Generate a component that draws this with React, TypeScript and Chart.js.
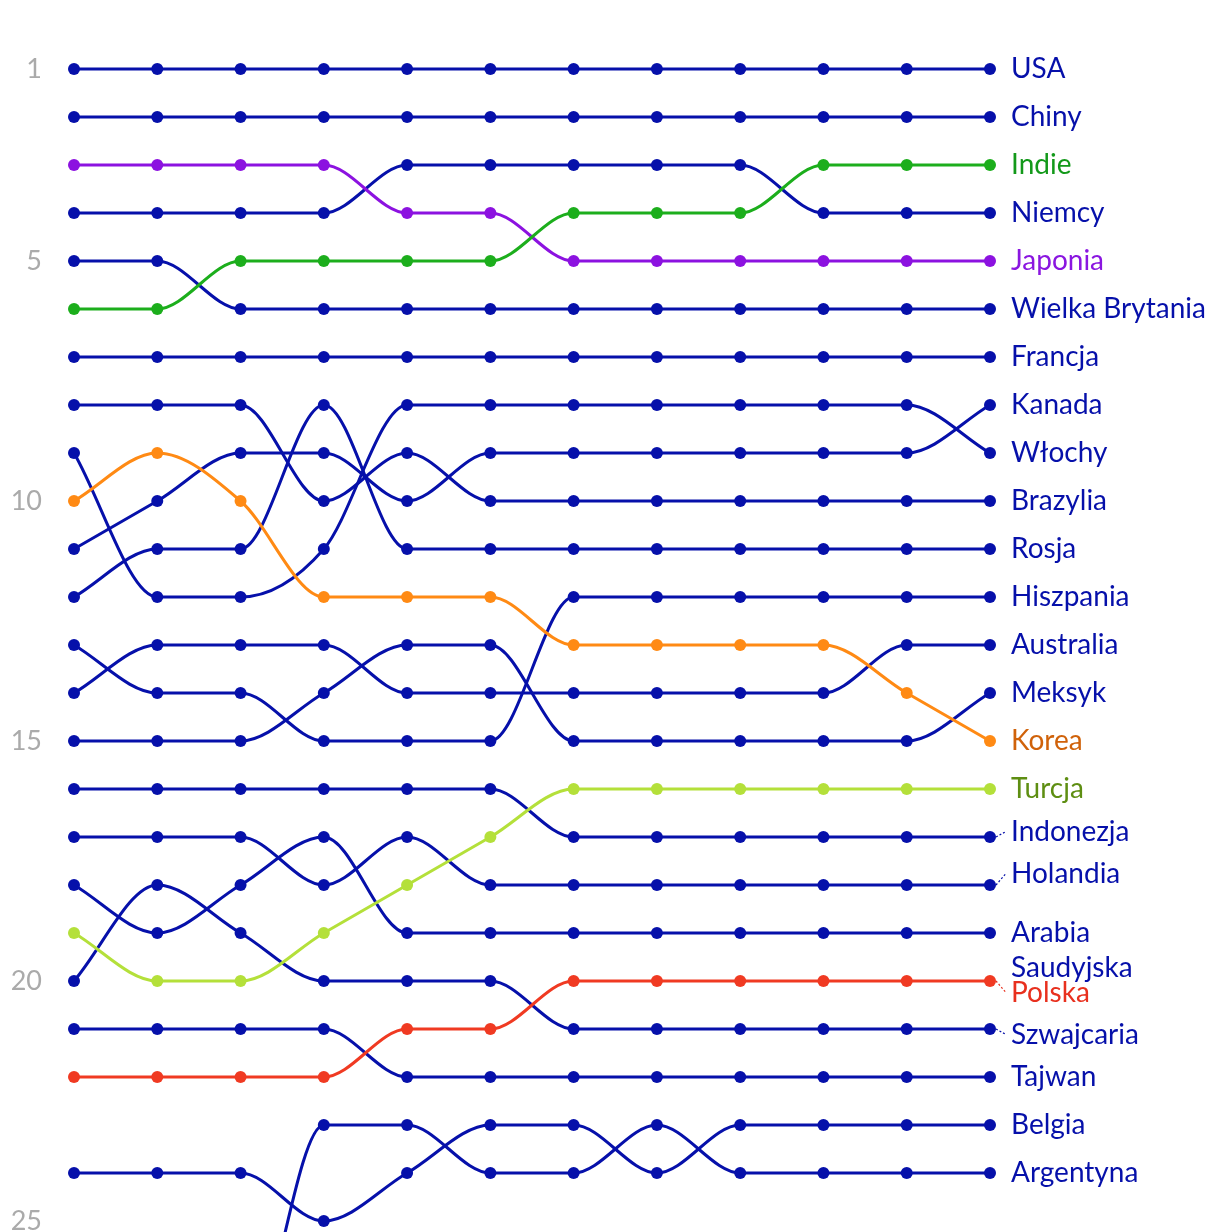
import React, { useEffect, useRef } from 'react';
import { Chart, registerables } from 'chart.js';

Chart.register(...registerables);

// ---- data -------------------------------------------------------------
const STEPS = ['1', '2', '3', '4', '5', '6', '7', '8', '9', '10', '11', '12'];
const Y_TICKS = [1, 5, 10, 15, 20, 25];

const USA = [1, 1, 1, 1, 1, 1, 1, 1, 1, 1, 1, 1];
const CHINY = [2, 2, 2, 2, 2, 2, 2, 2, 2, 2, 2, 2];
const INDIE = [6, 6, 5, 5, 5, 5, 4, 4, 4, 3, 3, 3];
const NIEMCY = [4, 4, 4, 4, 3, 3, 3, 3, 3, 4, 4, 4];
const JAPONIA = [3, 3, 3, 3, 4, 4, 5, 5, 5, 5, 5, 5];
const WIELKA_BRYTANIA = [5, 5, 6, 6, 6, 6, 6, 6, 6, 6, 6, 6];
const FRANCJA = [7, 7, 7, 7, 7, 7, 7, 7, 7, 7, 7, 7];
const KANADA = [11, 10, 9, 9, 10, 9, 9, 9, 9, 9, 9, 8];
const WLOCHY = [9, 12, 12, 11, 8, 8, 8, 8, 8, 8, 8, 9];
const BRAZYLIA = [8, 8, 8, 10, 9, 10, 10, 10, 10, 10, 10, 10];
const ROSJA = [12, 11, 11, 8, 11, 11, 11, 11, 11, 11, 11, 11];
const HISZPANIA = [13, 14, 14, 15, 15, 15, 12, 12, 12, 12, 12, 12];
const AUSTRALIA = [14, 13, 13, 13, 14, 14, 14, 14, 14, 14, 13, 13];
const MEKSYK = [15, 15, 15, 14, 13, 13, 15, 15, 15, 15, 15, 14];
const KOREA = [10, 9, 10, 12, 12, 12, 13, 13, 13, 13, 14, 15];
const TURCJA = [19, 20, 20, 19, 18, 17, 16, 16, 16, 16, 16, 16];
const INDONEZJA = [16, 16, 16, 16, 16, 16, 17, 17, 17, 17, 17, 17];
const HOLANDIA = [17, 17, 17, 18, 17, 18, 18, 18, 18, 18, 18, 18];
const ARABIA_SAUDYJSKA = [18, 19, 18, 17, 19, 19, 19, 19, 19, 19, 19, 19];
const POLSKA = [22, 22, 22, 22, 21, 21, 20, 20, 20, 20, 20, 20];
const SZWAJCARIA = [20, 18, 19, 20, 20, 20, 21, 21, 21, 21, 21, 21];
const TAJWAN = [21, 21, 21, 21, 22, 22, 22, 22, 22, 22, 22, 22];
const BELGIA = [24, 24, 24, 25, 24, 23, 23, 24, 23, 23, 23, 23];
const ARGENTYNA = [28, 28, 28, 23, 23, 24, 24, 23, 24, 24, 24, 24];

const SERIES: { name: string; data: number[] }[] = [
  { name: 'USA', data: USA },
  { name: 'Chiny', data: CHINY },
  { name: 'Indie', data: INDIE },
  { name: 'Niemcy', data: NIEMCY },
  { name: 'Japonia', data: JAPONIA },
  { name: 'Wielka Brytania', data: WIELKA_BRYTANIA },
  { name: 'Francja', data: FRANCJA },
  { name: 'Kanada', data: KANADA },
  { name: 'Włochy', data: WLOCHY },
  { name: 'Brazylia', data: BRAZYLIA },
  { name: 'Rosja', data: ROSJA },
  { name: 'Hiszpania', data: HISZPANIA },
  { name: 'Australia', data: AUSTRALIA },
  { name: 'Meksyk', data: MEKSYK },
  { name: 'Korea', data: KOREA },
  { name: 'Turcja', data: TURCJA },
  { name: 'Indonezja', data: INDONEZJA },
  { name: 'Holandia', data: HOLANDIA },
  { name: 'Arabia Saudyjska', data: ARABIA_SAUDYJSKA },
  { name: 'Polska', data: POLSKA },
  { name: 'Szwajcaria', data: SZWAJCARIA },
  { name: 'Tajwan', data: TAJWAN },
  { name: 'Belgia', data: BELGIA },
  { name: 'Argentyna', data: ARGENTYNA },
];

// ---- styles -----------------------------------------------------------
const BASE_LINE = '#0610aa';
const BASE_TEXT = '#0610aa';
const HIGHLIGHT: Record<string, { line: string; text: string }> = {
  Indie: { line: '#1cae1c', text: '#13991a' },
  Japonia: { line: '#8c12e0', text: '#8a16e0' },
  Korea: { line: '#ff8a14', text: '#d0620a' },
  Turcja: { line: '#b4e03a', text: '#5e8e12' },
  Polska: { line: '#f03a22', text: '#e8301e' },
};
const FONT = 'Lato, "Noto Sans", sans-serif';
const LABEL_SIZE = 28;
const LABEL_DX = 21;
const ROW_H = 42;
const LINE_H = 35;
const Y_MIN = 0;
const Y_MAX = 30;
const PX_PER_RANK = 48;
const TOP_PX = 21; // pixel of rank 0
const AXIS_W = 74;

function wrapText(ctx: CanvasRenderingContext2D, text: string, maxW: number): string[] {
  const words = text.split(' ');
  const lines: string[] = [];
  let cur = '';
  for (const w of words) {
    const test = cur ? cur + ' ' + w : w;
    if (cur && ctx.measureText(test).width > maxW) {
      lines.push(cur);
      cur = w;
    } else {
      cur = test;
    }
  }
  if (cur) lines.push(cur);
  return lines;
}

type Item = { target: number; h: number; pos: number; lines: string[]; color: string };

// least-squares placement without overlap (pool adjacent violators)
function placeLabels(items: Item[]) {
  const sorted = [...items].sort((a, b) => a.target - b.target);
  type Block = { items: Item[]; offs: number[]; pos: number; span: number };
  const blocks: Block[] = [];
  for (const it of sorted) {
    let b: Block = { items: [it], offs: [0], pos: it.target, span: 0 };
    while (blocks.length) {
      const p = blocks[blocks.length - 1];
      const pLast = p.items[p.items.length - 1];
      const pBottom = p.pos + p.span + pLast.h / 2;
      const top = b.pos - b.items[0].h / 2;
      if (pBottom <= top) break;
      blocks.pop();
      const shift = p.span + pLast.h / 2 + b.items[0].h / 2;
      const merged: Block = {
        items: [...p.items, ...b.items],
        offs: [...p.offs, ...b.offs.map((o) => o + shift)],
        pos: 0,
        span: shift + b.span,
      };
      let s = 0;
      merged.items.forEach((m, i) => (s += m.target - merged.offs[i]));
      merged.pos = s / merged.items.length;
      b = merged;
    }
    blocks.push(b);
  }
  for (const b of blocks) b.items.forEach((m, i) => (m.pos = b.pos + b.offs[i]));
}

const endLabels = {
  id: 'endLabels',
  afterDatasetsDraw(chart: any) {
    const { ctx, chartArea } = chart;
    const yScale = chart.scales.y;
    const x0 = chartArea.right;
    ctx.save();
    ctx.font = `${LABEL_SIZE}px ${FONT}`;
    const maxW = chart.width - (x0 + LABEL_DX) - 6;
    const items: Item[] = chart.data.datasets.map((ds: any) => {
      const last = ds.data[ds.data.length - 1];
      const lines = wrapText(ctx, ds.label, maxW);
      return {
        target: yScale.getPixelForValue(last),
        lines,
        h: ROW_H + LINE_H * (lines.length - 1),
        pos: 0,
        color: ds.textColor,
      };
    });
    placeLabels(items);
    ctx.textAlign = 'left';
    ctx.textBaseline = 'middle';
    for (const it of items) {
      if (Math.abs(it.pos - it.target) > 0.5) {
        ctx.save();
        ctx.strokeStyle = it.color;
        ctx.lineWidth = 1.2;
        ctx.setLineDash([2, 2]);
        ctx.beginPath();
        ctx.moveTo(x0 + 6, it.target);
        ctx.lineTo(x0 + LABEL_DX - 5, it.pos);
        ctx.stroke();
        ctx.restore();
      }
      ctx.fillStyle = it.color;
      it.lines.forEach((ln, i) => ctx.fillText(ln, x0 + LABEL_DX, it.pos + i * LINE_H));
    }
    ctx.restore();
  },
};

const CANVAS_H = TOP_PX + (Y_MAX - Y_MIN) * PX_PER_RANK + 9;

export default function App() {
  const ref = useRef<HTMLCanvasElement | null>(null);
  useEffect(() => {
    if (!ref.current) return;
    const datasets = SERIES.map((s) => {
      const hl = HIGHLIGHT[s.name];
      const line = hl ? hl.line : BASE_LINE;
      return {
        label: s.name,
        data: s.data,
        borderColor: line,
        backgroundColor: line,
        pointBackgroundColor: line,
        pointBorderWidth: 0,
        pointRadius: 6,
        borderWidth: 3,
        cubicInterpolationMode: 'monotone' as const,
        fill: false,
        order: hl ? 0 : 1,
        textColor: hl ? hl.text : BASE_TEXT,
      };
    });
    const chart = new Chart(ref.current, {
      type: 'line',
      data: { labels: STEPS, datasets: datasets as any },
      options: {
        animation: false,
        responsive: false,
        events: [],
        layout: { padding: { left: 0, right: 230, top: TOP_PX, bottom: 9 } },
        plugins: { legend: { display: false }, tooltip: { enabled: false } },
        scales: {
          x: { type: 'category', display: false, offset: false },
          y: {
            reverse: true,
            min: Y_MIN,
            max: Y_MAX,
            grid: { display: false, drawTicks: false },
            border: { display: false },
            ticks: { color: '#aaaaaa', font: { family: FONT, size: 27 }, padding: 32 },
            afterBuildTicks: (s: any) => {
              s.ticks = Y_TICKS.map((v) => ({ value: v }));
            },
            afterFit: (s: any) => {
              s.width = AXIS_W;
              s.paddingTop = 0;
              s.paddingBottom = 0;
            },
          },
        },
      },
      plugins: [endLabels],
    });
    return () => chart.destroy();
  }, []);
  return (
    <div style={{ position: 'fixed', left: 0, top: 0, width: 1220, height: 1232, overflow: 'hidden', background: '#fff' }}>
      <canvas ref={ref} width={1220} height={CANVAS_H} style={{ display: 'block', width: 1220, height: CANVAS_H }} />
    </div>
  );
}
